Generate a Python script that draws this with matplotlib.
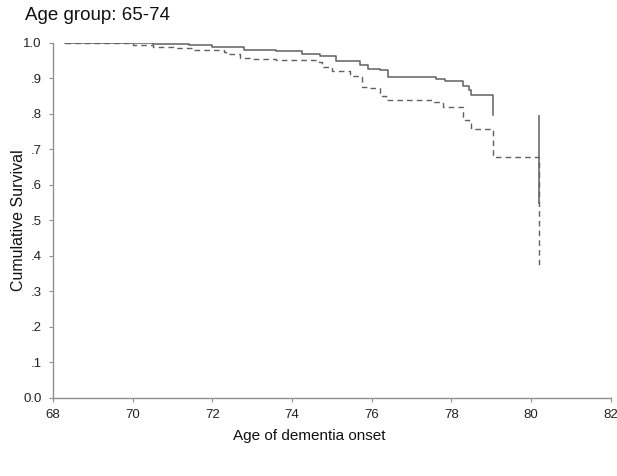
import matplotlib
matplotlib.use("Agg")
import matplotlib.pyplot as plt

# Kaplan-Meier estimates, age at onset vs cumulative survival
solid_age = [68.3, 70.5, 71.4, 72.0, 72.8, 73.6, 74.25, 74.7, 75.1, 75.7, 75.9,
             76.2, 76.4, 77.6, 77.85, 78.3, 78.45, 78.5, 79.05]
solid_surv = [1.000, 0.997, 0.994, 0.989, 0.980, 0.978, 0.969, 0.963, 0.950, 0.937, 0.926,
              0.923, 0.904, 0.899, 0.893, 0.879, 0.868, 0.852, 0.797]
solid_last_age = 80.2
solid_last = [0.797, 0.546]

dash_age = [68.3, 70.0, 70.5, 71.0, 71.55, 72.3, 72.35, 72.7, 73.0, 73.6, 74.68, 74.75,
            75.0, 75.45, 75.7, 75.75, 75.9, 76.2, 76.35, 77.55, 77.8, 78.3, 78.45,
            78.5, 79.05, 80.2]
dash_surv = [1.000, 0.994, 0.989, 0.986, 0.980, 0.975, 0.969, 0.958, 0.955, 0.951, 0.946, 0.932,
             0.921, 0.907, 0.903, 0.877, 0.873, 0.850, 0.838, 0.834, 0.819, 0.783, 0.776,
             0.757, 0.679, 0.369]

xticks = [68, 70, 72, 74, 76, 78, 80, 82]
yticks = [0.0, 0.1, 0.2, 0.3, 0.4, 0.5, 0.6, 0.7, 0.8, 0.9, 1.0]
ylabels = ["0.0", ".1", ".2", ".3", ".4", ".5", ".6", ".7", ".8", ".9", "1.0"]

plt.rcParams["font.family"] = ["Liberation Sans", "DejaVu Sans"]

fig = plt.figure(figsize=(6.17, 4.76), dpi=100)
ax = fig.add_axes([0.086, 0.164, 0.904, 0.746])

line_col = "#606060"
ax.step(solid_age, solid_surv, where="post", color=line_col, lw=1.1)
ax.vlines(solid_last_age, solid_last[1], solid_last[0], color=line_col, lw=1.1)
ax.step(dash_age, dash_surv, where="post", color=line_col, lw=1.0,
        linestyle=(0, (4, 3)))

ax.set_xlim(68, 82)
ax.set_ylim(0, 1.0)
ax.set_xticks(xticks)
ax.set_yticks(yticks)
ax.set_yticklabels(ylabels)

for s in ["top", "right"]:
    ax.spines[s].set_visible(False)
for s in ["left", "bottom"]:
    ax.spines[s].set_color("#909090")
    ax.spines[s].set_linewidth(1.0)
ax.tick_params(direction="out", length=3, width=0.8, color="#909090",
               labelsize=9.5, labelcolor="#222222", pad=5)

ax.set_xlabel("Age of dementia onset", fontsize=11, color="#111111")
ax.xaxis.set_label_coords(0.46, -0.088)
ax.set_ylabel("Cumulative Survival", fontsize=11.5, labelpad=-2, color="#111111")
fig.text(0.04, 0.968, "Age group: 65-74", fontsize=13.5, va="center", ha="left",
         color="#111111")

fig.savefig("out.png", dpi=100)
